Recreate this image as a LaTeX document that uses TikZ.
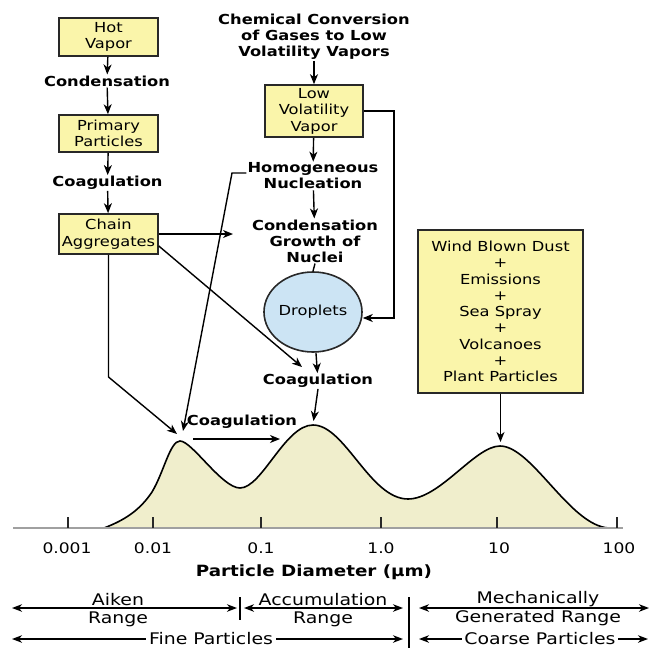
\documentclass[tikz,border=0pt]{standalone}
\usepackage{fontspec}
\setmainfont{DejaVu Sans}[FakeStretch=1.18]
\usetikzlibrary{arrows.meta,shapes.geometric,calc}
\definecolor{boxfill}{RGB}{250,245,170}
\definecolor{boxline}{RGB}{40,40,40}
\definecolor{dropfill}{RGB}{204,228,244}
\definecolor{curvefill}{RGB}{240,238,204}
\definecolor{axisgray}{RGB}{160,160,160}
\def\mycurvepath{(104,528) .. controls (125,520) and (140,510) .. (152,492)
  .. controls (164,472) and (170,441) .. (180,441)
  .. controls (192,441) and (222,488) .. (240,488)
  .. controls (262,488) and (285,425) .. (313,425)
  .. controls (345,425) and (370,499) .. (408,499)
  .. controls (440,499) and (475,446) .. (500,446)
  .. controls (532,446) and (570,526) .. (609,528)}
\begin{document}
\begin{tikzpicture}[x=1pt,y=-1pt,
  lbl/.style={font=\fontsize{13.8}{16}\selectfont\bfseries, align=center, inner sep=1pt},
  boxn/.style={draw=boxline, fill=boxfill, line width=1.6pt, align=center, inner sep=0pt,
     font=\fontsize{13.8}{16.5}\selectfont},
  arr/.style={-{Stealth[length=10pt,width=8pt,inset=3pt]}, line width=1.4pt},
  ln/.style={line width=1.4pt},
  rng/.style={{Stealth[length=10pt,width=7.5pt,inset=3pt]}-{Stealth[length=10pt,width=7.5pt,inset=3pt]}, line width=1.3pt},
  numf/.style={font=\fontsize{14.5}{16}\selectfont, inner sep=0pt},
  btxt/.style={font=\fontsize{16}{18}\selectfont, inner sep=0pt},
  tick/.style={line width=1.2pt, draw=boxline}]
\useasboundingbox (0,0) rectangle (651,648);

% distribution curve
\fill[curvefill] \mycurvepath -- cycle;
\draw[line width=1.6pt] \mycurvepath;
\draw[axisgray, line width=1.5pt] (13,528) coordinate (ax0) -- (623,528) coordinate (ax1);
\foreach \x in {68,153,261,381,497,617}{
  \draw[tick] (\x,517) -- (\x,528);
}
\node[numf] (n1) at (67,548) {0.001};
\node[numf] (n2) at (153,548) {0.01};
\node[numf] (n3) at (261,548) {0.1};
\node[numf] (n4) at (381,548) {1.0};
\node[numf] (n5) at (499,548) {10};
\node[numf] (n6) at (619,548) {100};
\node[font=\fontsize{15.5}{18}\selectfont\bfseries, inner sep=0pt] (xl) at (314,572) {Particle Diameter (µm)};

\coordinate (pk1a) at (177,434);
\coordinate (pk1b) at (183,431);
\coordinate (pk2a) at (313.5,421);
\coordinate (pk3a) at (500.5,442);

% left chain
\node[boxn, minimum width=99pt, minimum height=38pt] (hot) at (108.5,37) {Hot\\Vapor};
\node[lbl] (cond1) at (107,81) {Condensation};
\node[boxn, minimum width=99pt, minimum height=37pt] (prim) at (108.5,133.5) {Primary\\Particles};
\node[lbl] (coag1) at (107.5,183) {Coagulation};
\node[boxn, minimum width=99pt, minimum height=40pt] (chain) at (108.5,234) {Chain\\Aggregates};

% middle chain
\node[lbl] (chem) at (314,37) {Chemical Conversion\\of Gases to Low\\Volatility Vapors};
\node[boxn, minimum width=98pt, minimum height=52pt] (lowvol) at (314,111) {Low\\Volatility\\Vapor};
\node[lbl] (homo) at (313,176) {Homogeneous\\Nucleation};
\node[lbl] (condg) at (315,241) {Condensation\\Growth of\\Nuclei};
\node[ellipse, draw=boxline, fill=dropfill, line width=1.6pt, minimum width=98pt, minimum height=80pt,
      inner sep=0pt, font=\fontsize{13.8}{16}\selectfont] (drop) at (313,312) {Droplets};
\node[lbl] (coag2) at (318,381) {Coagulation};
\node[lbl] (coag3) at (242,422) {Coagulation};

% right box
\node[boxn, minimum width=165pt, minimum height=163pt, font=\fontsize{13.8}{16.25}\selectfont] (wind) at (500.5,311.5)
  {Wind Blown Dust\\+\\Emissions\\+\\Sea Spray\\+\\Volcanoes\\+\\Plant Particles};

% connectors
\draw[arr] (hot) -- (cond1);
\draw[arr] (cond1) -- (prim);
\draw[arr] (prim) -- (coag1);
\draw[arr] (coag1) -- (chain);
\draw[arr] (chem) -- (lowvol);
\draw[arr] (lowvol) -- (homo);
\draw[arr] (homo) -- (condg);
\draw[ln] (condg.south) -- (drop.north);
\draw[arr] (drop) -- (coag2);
\draw[arr] (coag2.south) -- (pk2a);
\coordinate (lvc) at (394,318);
\draw[arr] (lowvol.east) -| (lvc) -- (lvc -| drop.east);
\coordinate (ca) at (233,234);
\draw[arr] (chain.east) -- (ca);
\coordinate (cb) at (302,367);
\draw[arr] ([yshift=-12pt]chain.east) -- (cb);
\coordinate (cc) at (108.5,377);
\draw[arr] (chain.south) -- (cc) -- (pk1a);
\coordinate (hc) at (232,173);
\draw[arr] ([yshift=3pt]homo.west) -- (hc) -- (pk1b);
\draw[arr] (wind.south) -- (pk3a);
\coordinate (c3a) at (193,439);
\coordinate (c3b) at (280,439);
\draw[arr] (c3a) -- (c3b);

% size ranges
\coordinate (r1a) at (12,608); \coordinate (r1b) at (237,608);
\coordinate (r2a) at (244,608); \coordinate (r2b) at (403,608);
\coordinate (r3a) at (419,608); \coordinate (r3b) at (649,608);
\coordinate (f1a) at (12,639); \coordinate (f1b) at (403,639);
\coordinate (f2a) at (419,639); \coordinate (f2b) at (648,639);
\draw[rng] (r1a) -- (r1b);
\draw[rng] (r2a) -- (r2b);
\draw[rng] (r3a) -- (r3b);
\draw[rng] (f1a) -- (f1b);
\draw[rng] (f2a) -- (f2b);
\draw[line width=1.4pt] (240,597) coordinate (d1a) -- (240,620) coordinate (d1b);
\draw[line width=1.4pt] (409,597) coordinate (d2a) -- (409,648) coordinate (d2b);
\node[btxt, anchor=base] (t1) at (118,605) {Aiken};
\node[btxt, anchor=base] (t2) at (118,623) {Range};
\node[btxt, anchor=base] (t3) at (323,605) {Accumulation};
\node[btxt, anchor=base] (t4) at (323,623) {Range};
\node[btxt, anchor=base] (t5) at (538,603) {Mechanically};
\node[btxt, anchor=base] (t6) at (538,622) {Generated Range};
\node[btxt, fill=white, inner xsep=3pt, inner ysep=0pt, anchor=base] (t7) at (211,644.5) {Fine Particles};
\node[btxt, fill=white, inner xsep=2pt, inner ysep=0pt, anchor=base] (t8) at (540,644.5) {Coarse Particles};
\end{tikzpicture}
\end{document}
